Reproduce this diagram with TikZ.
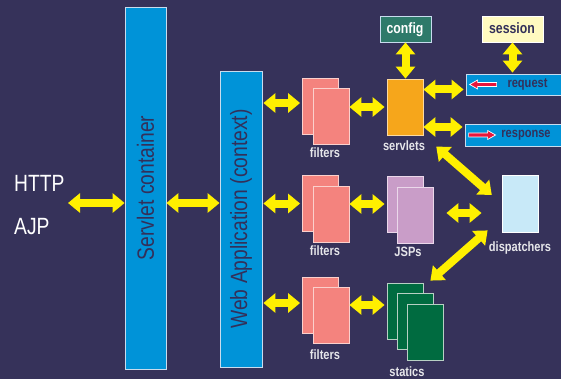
\documentclass[tikz,border=0pt]{standalone}
\usepackage{fontspec}
\newfontfamily\narrowsans[FakeStretch=0.82]{Liberation Sans}
\usetikzlibrary{arrows.meta,calc}

\definecolor{bg}{HTML}{36325A}
\definecolor{navy}{HTML}{33305A}
\definecolor{cblue}{HTML}{0093D8}
\definecolor{yel}{HTML}{FFF000}
\definecolor{salmon}{HTML}{F4837E}
\definecolor{salmonedge}{HTML}{FBD0CC}
\definecolor{orng}{HTML}{F6A61B}
\definecolor{orngedge}{HTML}{FBD9A0}
\definecolor{lilac}{HTML}{C99DC8}
\definecolor{lilacedge}{HTML}{EBD8EA}
\definecolor{dgreen}{HTML}{006B40}
\definecolor{dgreenedge}{HTML}{B8D0C4}
\definecolor{pale}{HTML}{C8E9F8}
\definecolor{teal}{HTML}{2E7A6A}
\definecolor{cream}{HTML}{FFFAC0}
\definecolor{rred}{HTML}{E8163C}
\definecolor{lgray}{HTML}{E6E6EA}
\definecolor{edge}{HTML}{C8DCEE}

\begin{document}
\begin{tikzpicture}[x=1pt,y=-1pt,
  panel/.style={rectangle, inner sep=0pt, line width=0.8pt, draw=edge},
  sheet/.style={panel, minimum width=36pt, minimum height=56pt},
  filt/.style={sheet, fill=salmon, draw=salmonedge},
  jsp/.style={sheet, fill=lilac, draw=lilacedge},
  stat/.style={sheet, fill=dgreen, draw=dgreenedge},
  lbl/.style={text=lgray, font=\narrowsans\bfseries\fontsize{13.5}{16}\selectfont, anchor=base, inner sep=0pt},
  big/.style={font=\narrowsans\fontsize{23.5}{28}\selectfont, inner sep=0pt},
  yarr/.style={draw=yel, line width=8pt,
    {Triangle[width=19pt,length=12pt]}-{Triangle[width=19pt,length=12pt]}},
  redmark/.style={fill=rred, draw=white, line width=0.7pt, line join=miter}]

% background
\fill[bg] (0,0) rectangle (561,379);
\useasboundingbox (0,0) rectangle (561,379);

% containers
\node[panel, fill=cblue, minimum width=41pt, minimum height=362pt] (sc) at (145.5,188) {};
\node[big, text=navy, rotate=90] at (sc.center) {Servlet container};
\node[panel, fill=cblue, minimum width=42pt, minimum height=296pt] (wa) at (241,219) {};
\node[big, text=navy, rotate=90] at (wa.center) {Web Application (context)};

% protocols
\node[big, text=white, anchor=base west] (http) at (14,192) {HTTP};
\node[big, text=white, anchor=base west] (ajp) at (14,234.5) {AJP};
\coordinate (client) at (68,203);

% servlet row
\node[filt] (f1b) at (320.5,106) {};
\node[filt] (f1) at (331,116.5) {};
\node[lbl] (lf1) at (325,158) {filters};
\node[panel, fill=orng, draw=orngedge, minimum width=36pt, minimum height=56pt] (s) at (405,107) {};
\node[lbl] (ls) at (404,151) {servlets};
\node[panel, fill=teal, minimum width=51pt, minimum height=26pt] (cfg) at (405.5,29) {};
\node[lbl, text=white, font=\narrowsans\bfseries\fontsize{15}{18}\selectfont] at (405,33.3) {config};
\node[panel, fill=cream, draw=white, minimum width=61pt, minimum height=26pt] (ses) at (512.5,29) {};
\node[lbl, text=navy, font=\narrowsans\bfseries\fontsize{15}{18}\selectfont] at (512,33.3) {session};
\node[panel, fill=cblue, minimum width=96pt, minimum height=21pt] (rq) at (514,84.5) {};
\node[lbl, text=navy] at (527.5,88) {request};
\node[panel, fill=cblue, minimum width=97pt, minimum height=22pt] (rs) at (513.5,135) {};
\node[lbl, text=navy] at (526,138) {response};

% JSP row
\node[filt] (f2b) at (320.5,203.5) {};
\node[filt] (f2) at (331,214) {};
\node[lbl] (lf2) at (325,255) {filters};
\node[jsp] (j1) at (405,204) {};
\node[jsp] (j2) at (415,215) {};
\node[lbl] (lj) at (408,256) {JSPs};
\node[panel, fill=pale, draw=white, minimum width=36pt, minimum height=57pt] (disp) at (520,203.5) {};
\node[lbl] (ld) at (520,251.5) {dispatchers};

% static row
\node[filt] (f3b) at (320.5,305) {};
\node[filt] (f3) at (331,315.5) {};
\node[lbl] (lf3) at (325,359) {filters};
\node[stat] (st1) at (405,311) {};
\node[stat] (st2) at (415,321.5) {};
\node[stat] (st3) at (425,332) {};
\node[lbl] (lst) at (407,376) {statics};

% yellow connectors
\draw[yarr] (client) -- (client -| sc.west);
\draw[yarr] (sc.east |- client) -- (wa.west |- client);
\draw[yarr] ($(wa.east |- f1b.west)+(1,-3)$) -- ($(f1b.west)+(-2,-3)$);
\draw[yarr] ($(wa.east |- f2b.west)+(1,0)$) -- ($(f2b.west)+(-2,0)$);
\draw[yarr] ($(wa.east |- f3b.west)+(1,-2)$) -- ($(f3b.west)+(-2,-2)$);
\draw[yarr] (f1.east |- s.west) -- ($(s.west)+(-2,0)$);
\draw[yarr] (f2.east |- j1.west) -- ($(j1.west)+(-2,0)$);
\draw[yarr] (f3.east |- f3b.west) -- ($(st1.west |- f3b.west)+(-2,0)$);
\draw[yarr] (cfg.south) -- (cfg.south |- s.north);
\draw[yarr] (ses.south) -- ($(ses.south |- rq.north)+(0,-1)$);
\draw[yarr] ($(s.east |- rq.west)+(0,5)$) -- ($(rq.west)+(-2,5)$);
\draw[yarr] ($(s.east |- rs.west)+(0,-8)$) -- ($(rs.west)+(-2,-8)$);
\draw[yarr, shorten <=17pt, shorten >=13pt] (s.south east) -- (disp.west);
\draw[yarr, shorten <=13pt, shorten >=20pt] ($(j2.east)+(0,-2)$) -- ($(j2.east -| disp.west)+(0,-2)$);
\draw[yarr] ([shift={(-14,-2)}]disp.south west) -- ([shift={(7,-2)}]st1.north east);

% direction marks on request (inbound) and response (outbound)
\filldraw[redmark] ([xshift=4pt]rq.west) -- ++(8,-4.5) -- ++(0,2.5) -- ++(19,0)
  -- ++(0,4) -- ++(-19,0) -- ++(0,2.5) -- cycle;
\filldraw[redmark] ([xshift=31pt]rs.west) -- ++(-8,-4.5) -- ++(0,2.5) -- ++(-19,0)
  -- ++(0,4) -- ++(19,0) -- ++(0,2.5) -- cycle;
\end{tikzpicture}
\end{document}
